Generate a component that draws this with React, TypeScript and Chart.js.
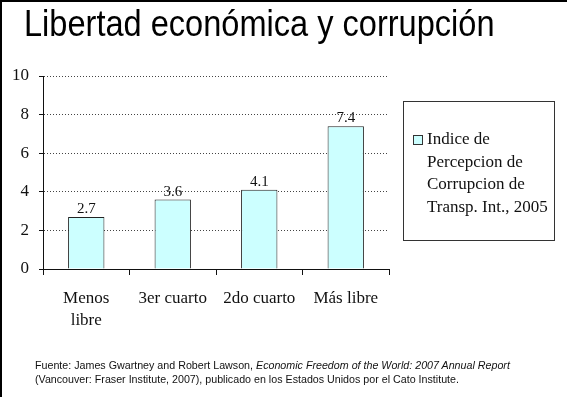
import React, { useEffect, useRef } from "react";
import { Chart, registerables } from "chart.js";

Chart.register(...registerables);

const categories: (string | string[])[] = [["Menos", "libre"], "3er cuarto", "2do cuarto", "Más libre"];
const values: number[] = [2.7, 3.6, 4.1, 7.4];
const valueLabels: string[] = ["2.7", "3.6", "4.1", "7.4"];
const seriesName = "Indice de Percepcion de Corrupcion de Transp. Int., 2005";
const legendLines: string[] = ["Indice de", "Percepcion de", "Corrupcion de", "Transp. Int., 2005"];
const titleText = "Libertad económica y corrupción";
const yMin = 0;
const yMax = 10;
const yStep = 2;

const SERIF = "'Liberation Serif', 'Times New Roman', serif";
const SANS = "'Liberation Sans', Arial, sans-serif";

const valueLabelPlugin = {
  id: "valueLabels",
  afterDatasetsDraw(chart: any) {
    const ctx = chart.ctx;
    const meta = chart.getDatasetMeta(0);
    ctx.save();
    ctx.font = `15px ${SERIF}`;
    ctx.fillStyle = "#111";
    ctx.textAlign = "center";
    ctx.textBaseline = "alphabetic";
    meta.data.forEach((bar: any, i: number) => {
      ctx.fillText(valueLabels[i], bar.x, bar.y - 4);
    });
    ctx.restore();
  },
};

export default function App() {
  const ref = useRef<HTMLCanvasElement>(null);

  useEffect(() => {
    document.body.style.margin = "0";
    const chart = new Chart(ref.current as HTMLCanvasElement, {
      type: "bar",
      data: {
        labels: categories,
        datasets: [
          {
            label: seriesName,
            data: values,
            backgroundColor: "#ccffff",
            borderColor: "#222",
            borderWidth: 1,
            barPercentage: 0.42,
            categoryPercentage: 1,
          },
        ],
      },
      options: {
        responsive: false,
        animation: false,
        layout: { padding: { left: 0, right: 180, top: 76, bottom: 68 } },
        plugins: {
          legend: { display: false },
          title: { display: false },
          tooltip: { enabled: false },
        },
        scales: {
          x: {
            offset: true,
            afterFit: (s: any) => {
              s.height = 60;
            },
            border: { display: true, color: "#111", width: 1 },
            grid: {
              offset: true,
              drawOnChartArea: false,
              drawTicks: true,
              tickLength: 6,
              tickColor: "#111",
              lineWidth: 1,
            },
            ticks: {
              color: "#111",
              font: { family: SERIF, size: 17, lineHeight: 1.3 },
              padding: 12,
              maxRotation: 0,
              autoSkip: false,
            },
          },
          y: {
            min: yMin,
            max: yMax,
            afterFit: (s: any) => {
              s.width = 43;
            },
            border: { display: true, color: "#111", width: 1, dash: [1, 2] },
            grid: {
              color: "#444",
              lineWidth: 1,
              drawTicks: true,
              tickLength: 4,
              tickColor: "#111",
              tickBorderDash: [],
            } as any,
            ticks: {
              stepSize: yStep,
              color: "#111",
              font: { family: SERIF, size: 17 },
              padding: 10,
            },
          },
        },
      },
      plugins: [valueLabelPlugin],
    } as any);
    return () => chart.destroy();
  }, []);

  return (
    <div style={{ position: "relative", width: 569, height: 397, background: "#fff", overflow: "hidden" }}>
      <canvas ref={ref} width={569} height={397} style={{ position: "absolute", left: 0, top: 0, width: 569, height: 397 }} />
      <div style={{ position: "absolute", left: 0, top: 0, width: 2, height: 397, background: "#000" }} />
      <div style={{ position: "absolute", left: 0, top: 0, width: 567, height: 2, background: "#000" }} />
      <div
        style={{
          position: "absolute",
          left: 24,
          top: 1,
          fontFamily: SANS,
          fontSize: 37,
          lineHeight: "46px",
          color: "#000",
          whiteSpace: "nowrap",
          transform: "scaleX(0.88)",
          transformOrigin: "left top",
        }}
      >
        {titleText}
      </div>
      <div
        style={{
          position: "absolute",
          left: 403,
          top: 101,
          width: 152,
          height: 140,
          border: "1px solid #333",
          boxSizing: "border-box",
        }}
      >
        <div
          style={{
            position: "absolute",
            left: 9,
            top: 33,
            width: 10,
            height: 10,
            background: "#ccffff",
            border: "1px solid #333",
            boxSizing: "border-box",
          }}
        />
        <div
          style={{
            position: "absolute",
            left: 23,
            top: 26,
            fontFamily: SERIF,
            fontSize: 17,
            lineHeight: "22.5px",
            color: "#111",
            whiteSpace: "nowrap",
          }}
        >
          {legendLines.map((l, i) => (
            <div key={i}>{l}</div>
          ))}
        </div>
      </div>
      <div
        style={{
          position: "absolute",
          left: 35,
          top: 358,
          fontFamily: SANS,
          fontSize: 10.7,
          lineHeight: "14px",
          color: "#111",
          whiteSpace: "nowrap",
        }}
      >
        <div>
          Fuente: James Gwartney and Robert Lawson, <i>Economic Freedom of the World: 2007 Annual Report</i>
        </div>
        <div>(Vancouver: Fraser Institute, 2007), publicado en los Estados Unidos por el Cato Institute.</div>
      </div>
    </div>
  );
}
